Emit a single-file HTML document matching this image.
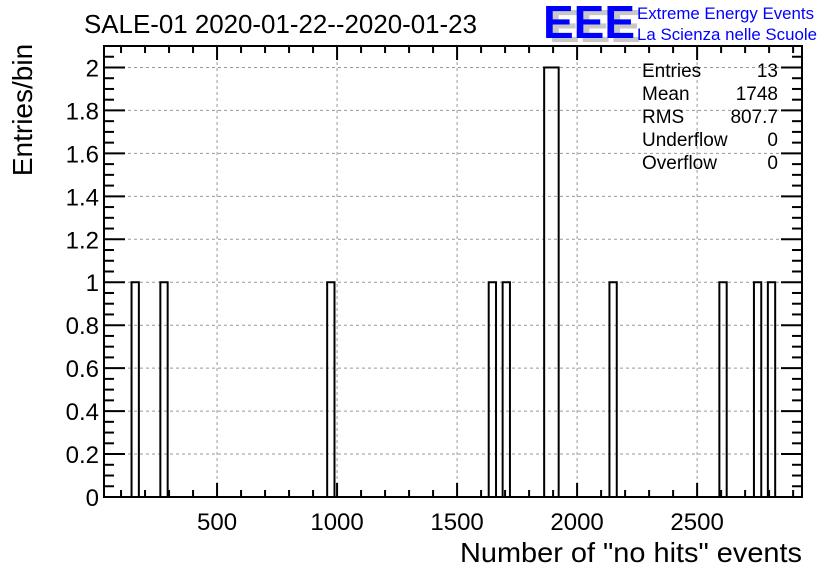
<!DOCTYPE html>
<html><head><meta charset="utf-8"><style>
body{margin:0;background:#fff;}
svg{display:block;font-family:"Liberation Sans",sans-serif;}
</style></head><body>
<svg id="chart" width="836" height="572" viewBox="0 0 836 572" xmlns="http://www.w3.org/2000/svg">
<rect width="836" height="572" fill="#fff"/>
<g id="grid"></g>
<g id="bars"></g>
<g id="axes"></g>
<text x="84" y="33" font-size="26" textLength="393" lengthAdjust="spacingAndGlyphs">SALE-01 2020-01-22--2020-01-23</text>
<text transform="translate(32,110) rotate(-90)" text-anchor="middle" font-size="28">Entries/bin</text>
<text x="802" y="562" text-anchor="end" font-size="28" textLength="342" lengthAdjust="spacingAndGlyphs">Number of "no hits" events</text>
<g font-weight="bold" font-size="46">
<text x="549" y="42" fill="#c8c8c8">EEE</text>
<text x="543" y="38" fill="#0000ff">EEE</text>
</g>
<text x="637" y="19" font-size="17" fill="#0000ff" textLength="177" lengthAdjust="spacingAndGlyphs">Extreme Energy Events</text>
<text x="637" y="40" font-size="17" fill="#0000ff" textLength="180" lengthAdjust="spacingAndGlyphs">La Scienza nelle Scuole</text>
<g id="stats" font-size="19"></g>
</svg>
<script>
const binCenters=[159,279,974,1647,1705,1878,1908,2150,2608,2752,2810];
const binCounts=[1,1,1,1,1,2,2,1,1,1,1];
const xTicks=[500,1000,1500,2000,2500];
const yTicks=[0,0.2,0.4,0.6,0.8,1,1.2,1.4,1.6,1.8,2];
const statLabels=["Entries","Mean","RMS","Underflow","Overflow"];
const statValues=["13","1748","807.7","0","0"];
const binWidth=30.5;
const X0=104,X1=802,Y0=497,Y1=46;
const xmin=29,xmax=2937,ymin=0,ymax=2.1;
const sx=v=>X0+(v-xmin)*(X1-X0)/(xmax-xmin);
const sy=v=>Y0-(v-ymin)*(Y0-Y1)/(ymax-ymin);
const NS="http://www.w3.org/2000/svg";
function mk(tag,attrs,parent){const e=document.createElementNS(NS,tag);for(const k in attrs)e.setAttribute(k,attrs[k]);parent.appendChild(e);return e;}
const grid=document.getElementById('grid'),bars=document.getElementById('bars'),axes=document.getElementById('axes'),stats=document.getElementById('stats');
xTicks.forEach(t=>{const l=mk('line',{x1:sx(t),x2:sx(t),y1:Y0,y2:Y1,stroke:'#999','stroke-dasharray':'3,3','stroke-width':1},grid);

});
yTicks.forEach(t=>{if(t===0)return;const l=mk('line',{x1:X0,x2:X1,y1:sy(t),y2:sy(t),stroke:'#999','stroke-dasharray':'3,3','stroke-width':1},grid);

});
// group adjacent bins with same count into one outline
let groups=[];
binCenters.forEach((c,i)=>{const g=groups[groups.length-1];
if(g&&Math.abs(c-g.end-binWidth/2)<binWidth*0.6&&g.n===binCounts[i]){g.end=c+binWidth/2;}
else groups.push({start:c-binWidth/2,end:c+binWidth/2,n:binCounts[i]});});
groups.forEach(g=>{const x=sx(g.start),w=sx(g.end)-x;
const r=mk('rect',{x:x,y:sy(g.n),width:w,height:Y0-sy(g.n),fill:'none',stroke:'#000','stroke-width':2},bars);

});
const fr=mk('rect',{x:X0,y:Y1,width:X1-X0,height:Y0-Y1,fill:'none',stroke:'#000','stroke-width':2},axes);


for(let v=100;v<xmax;v+=100){const maj=v%500===0,L=maj?14:7;
mk('line',{x1:sx(v),x2:sx(v),y1:Y0,y2:Y0-L,stroke:'#000','stroke-width':2},axes);
mk('line',{x1:sx(v),x2:sx(v),y1:Y1,y2:Y1+L,stroke:'#000','stroke-width':2},axes);}
for(let k=1;k*0.05<ymax;k++){const v=k*0.05,maj=k%4===0,L=maj?21:10;
mk('line',{x1:X0,x2:X0+L,y1:sy(v),y2:sy(v),stroke:'#000','stroke-width':2},axes);
mk('line',{x1:X1,x2:X1-L,y1:sy(v),y2:sy(v),stroke:'#000','stroke-width':2},axes);}
xTicks.forEach(t=>{const e=mk('text',{x:sx(t),y:Y0+33,'text-anchor':'middle','font-size':24},axes);e.textContent=t;

});
yTicks.forEach(t=>{const e=mk('text',{x:X0-5,y:sy(t)+9,'text-anchor':'end','font-size':24},axes);e.textContent=String(t);

});
statLabels.forEach((s,i)=>{const y=77+i*23;
const a=mk('text',{x:642,y:y},stats);a.textContent=s;


const b=mk('text',{x:778,y:y,'text-anchor':'end'},stats);b.textContent=statValues[i];

});
</script>
</body></html>
